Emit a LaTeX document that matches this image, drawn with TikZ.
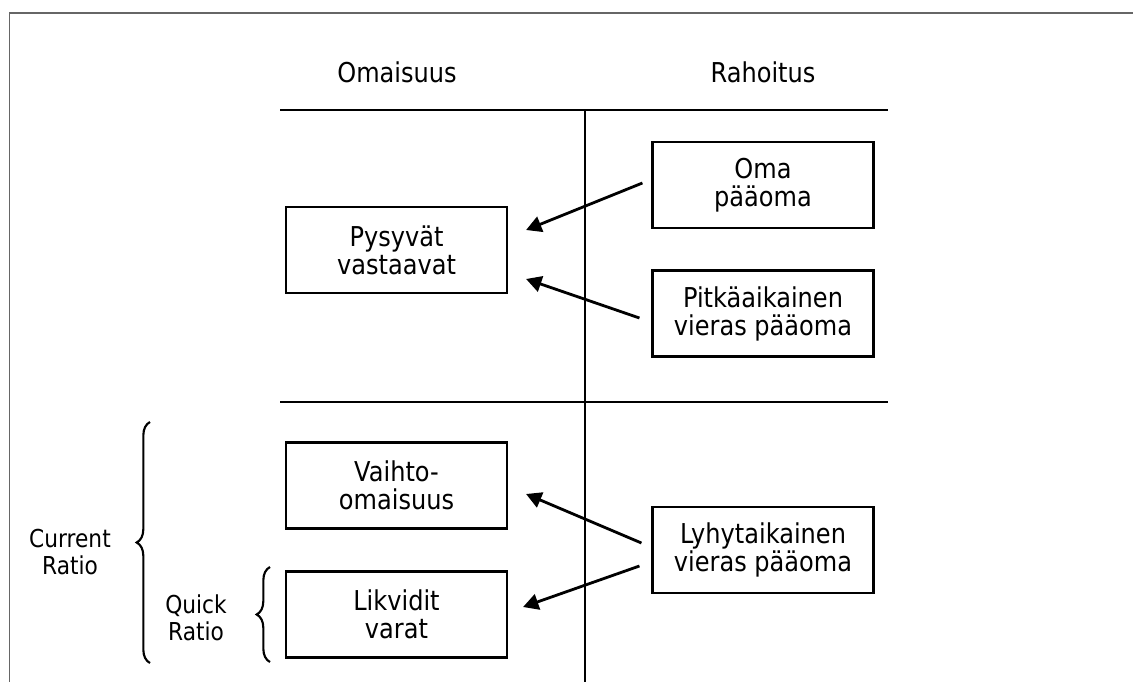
\documentclass[tikz,border=0pt]{standalone}
\usepackage{fontspec}
\setmainfont[FakeStretch=0.88]{DejaVu Sans}
\usetikzlibrary{arrows.meta,decorations.pathreplacing,calc}
\begin{document}
\begin{tikzpicture}[x=0.75pt,y=-0.75pt,
  boxtext/.style={font=\fontsize{20.5}{21}\selectfont},
  box/.style={draw,line width=1.6pt,minimum width=165.75pt,minimum height=64.5pt,
    align=center,inner sep=0pt,boxtext},
  sidelabel/.style={align=center,inner sep=0pt,font=\fontsize{18.5}{20.5}\selectfont},
  sepline/.style={line width=1.6pt},
  arr/.style={line width=2.1pt,-{Triangle[length=11.5pt,width=12pt]}},
  bracestyle/.style={line width=1.6pt,decorate,decoration={brace,amplitude=10pt}}]
\useasboundingbox (0,0) rectangle (1133,682);
% frame
\draw[line width=1.3pt,color=black!60] (9.5,682) -- (9.5,13) -- (1133,13);
% headers
\node[boxtext,anchor=base,inner sep=0pt] (hA) at (397,82) {Omaisuus};
\node[boxtext,anchor=base,inner sep=0pt] (hR) at (763,82) {Rahoitus};
% separators
\draw[sepline] (280,110) -- (888,110);
\draw[sepline] (280,402) -- (888,402);
\draw[sepline] (585,110) -- (585,682);
% boxes
\node[box] (pys) at (396.5,250) {Pysyvät\\vastaavat};
\node[box] (oma) at (763,185) {Oma\\pääoma};
\node[box] (pit) at (763,313.5) {Pitkäaikainen\\vieras pääoma};
\node[box] (vai) at (396.5,485.5) {Vaihto-\\omaisuus};
\node[box] (lik) at (396.5,614.5) {Likvidit\\varat};
\node[box] (lyh) at (763,550) {Lyhytaikainen\\vieras pääoma};
% arrows
\draw[arr] ($(oma.west)+(-9,-2)$) -- ($(pys.east)+(18,-20)$);
\draw[arr] ($(pit.west)+(-12,4.5)$) -- ($(pys.east)+(18,29)$);
\draw[arr] ($(lyh.west)+(-10,-7)$) -- ($(vai.east)+(18,8.5)$);
\draw[arr] ($(lyh.west)+(-12,16)$) -- ($(lik.east)+(15,-7.5)$);
% braces
\coordinate (cb1) at (150,663);
\coordinate (cb2) at (150,422);
\draw[bracestyle] (cb1) -- (cb2);
\coordinate (qb1) at (270,662);
\coordinate (qb2) at (270,567);
\draw[bracestyle] (qb1) -- (qb2);
% side labels
\node[sidelabel] (cur) at (70,552) {Current\\Ratio};
\node[sidelabel] (qui) at (196,618) {Quick\\Ratio};
\end{tikzpicture}
\end{document}
